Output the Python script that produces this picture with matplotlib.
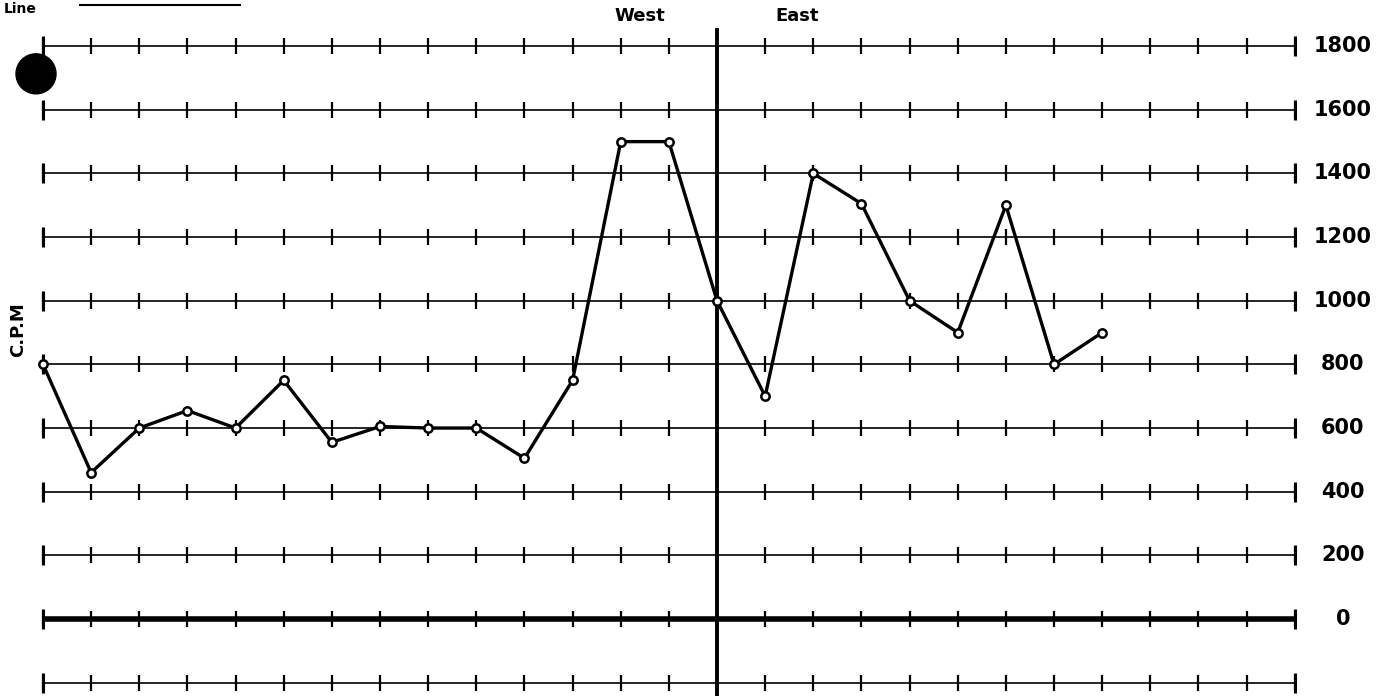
import matplotlib.pyplot as plt
from matplotlib.patches import Ellipse

# readings, one per station tick (C.P.M)
cpm = [800, 460, 600, 655, 600, 750, 555, 605, 600, 600, 505, 750,
       1500, 1500, 1000, 700, 1400, 1305, 1000, 900, 1300, 800, 900]
grid_vals = [1800, 1600, 1400, 1200, 1000, 800, 600, 400, 200, 0, -200]
grid_labels = ["1800", "1600", "1400", "1200", "1000", "800", "600", "400", "200", "0"]
n_ticks = 27          # tick marks 0..26 along each line
center = 14           # West / East divide

fig = plt.figure(figsize=(13.92, 6.96), dpi=100)
ax = fig.add_axes([0, 0, 1, 1])
ax.set_xlim(-0.893, 28.02)
ax.set_ylim(-242, 1945)
ax.axis("off")

xs_t = list(range(n_ticks))
for v in grid_vals:
    lw = 4 if v == 0 else 1.2
    ax.plot([0, n_ticks - 1], [v, v], color="black", lw=lw, solid_capstyle="butt")
    ax.plot(xs_t, [v] * n_ticks, ls="none", marker="|", ms=12, mew=1.6, color="black")
    ax.plot([0, n_ticks - 1], [v, v], ls="none", marker="|", ms=14, mew=2.2, color="black")

for v, lab in zip(grid_vals, grid_labels):
    ax.text(27.0, v, lab, ha="center", va="center", fontsize=15,
            fontweight="bold", color="black")

# divide line
ax.plot([center, center], [1850, -260], color="black", lw=2.8)
ax.text(12.4, 1894, "West", ha="center", va="center", fontsize=13, fontweight="bold")
ax.text(15.66, 1894, "East", ha="center", va="center", fontsize=13, fontweight="bold")

ax.text(-0.52, 908, "C.P.M", rotation=90, ha="center", va="center",
        fontsize=13, fontweight="bold")

# data
ax.plot(list(range(len(cpm))), cpm, color="black", lw=2.4, marker="o", ms=6,
        mfc="white", mec="black", mew=1.8, zorder=5)

# punch hole and header scraps
ax.add_patch(Ellipse((-0.145, 1713), 40 / 48.15, 40 / 0.3183, color="black", zorder=6))
fig.text(0.003, 0.997, "Line", ha="left", va="top", fontsize=10, fontweight="bold")
ax.plot([0.77, 4.1], [1928, 1928], color="black", lw=1.5)

fig.savefig("out.png", dpi=100)
